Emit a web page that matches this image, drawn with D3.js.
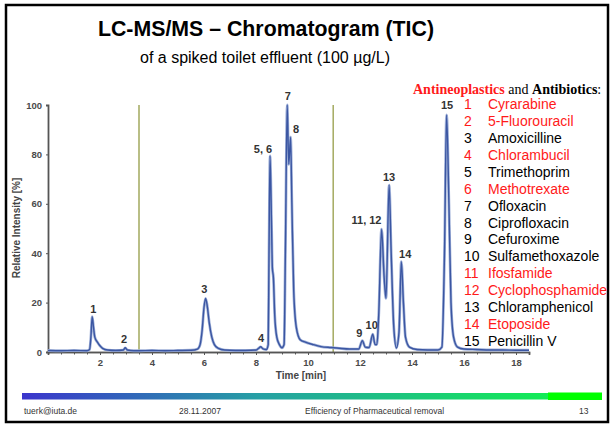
<!DOCTYPE html>
<html>
<head>
<meta charset="utf-8">
<script src="https://cdn.jsdelivr.net/npm/d3@7"></script>
<style>
  html, body { margin: 0; padding: 0; background: #fff; }
  svg { display: block; font-family: Arial, "Liberation Sans", sans-serif; }
</style>
</head>
<body>
<svg id="slide" width="612" height="425"></svg>
<script>
// retention time [min] and relative intensity [%] of the TIC trace
const traceTime = [0.0, 0.5, 1.0, 1.5, 1.6, 1.65, 1.7, 1.75, 1.8, 1.9, 2.0, 2.1, 2.3, 2.6, 2.9, 2.97, 3.05, 3.3, 3.5,
  4.0, 4.5, 5.0, 5.5, 5.75, 5.85, 5.93, 6.0, 6.06, 6.12, 6.2, 6.3, 6.4, 6.55, 6.8, 7.2, 7.6, 8.0, 8.1, 8.18, 8.27,
  8.4, 8.47, 8.5, 8.54, 8.6, 8.63, 8.67, 8.72, 8.8, 8.9, 9.0, 9.08, 9.13, 9.2, 9.26, 9.33, 9.38, 9.45, 9.55, 9.7,
  9.9, 10.2, 10.5, 10.9, 11.2, 11.6, 11.95, 12.09, 12.2, 12.35, 12.49, 12.58, 12.65, 12.72, 12.83, 12.93, 13.0,
  13.12, 13.2, 13.3, 13.4, 13.5, 13.59, 13.67, 13.75, 13.9, 14.2, 14.6, 15.0, 15.15, 15.25, 15.33, 15.42, 15.5,
  15.6, 15.75, 16.0, 16.5, 17.0, 17.5, 18.0, 18.5];
const traceIntensity = [0.6, 0.5, 0.6, 0.5, 1.0, 6, 14.3, 10, 6, 4, 2.5, 1.5, 0.8, 0.6, 0.8, 1.7, 0.8, 0.5, 0.5,
  0.6, 0.5, 0.6, 0.7, 1.2, 3, 9, 18, 21.7, 19, 12, 6, 3, 1.5, 0.8, 0.6, 0.6, 0.8, 1.5, 2.1, 1.3,
  1.0, 3, 40, 79.4, 50, 34, 30, 15, 6, 3, 1.7, 3, 40, 100, 76, 87, 60, 25, 10, 5,
  4, 3, 2.2, 1.8, 1.5, 1.2, 1.2, 4.6, 2, 1.8, 7.2, 3, 3, 15, 49.7, 30, 21.7,
  67.6, 40, 10, 1.6, 8, 36.6, 20, 6, 2, 1.0, 0.8, 0.8, 2, 40, 96, 60, 20,
  6, 2, 1.2, 1.0, 0.8, 0.8, 0.7, 0.7];

// peak labels: text, time, intensity at label baseline
const peakLabels = ["1", "2", "3", "4", "5, 6", "7", "8", "9", "10", "11, 12", "13", "14", "15"];
const peakLabelTime = [1.74, 2.93, 6.01, 8.19, 8.27, 9.22, 9.54, 11.97, 12.45, 12.25, 13.12, 13.74, 15.35];
const peakLabelValue = [15.7, 3.8, 23.7, 4, 80.7, 102, 88.8, 6, 9.3, 52, 69.4, 38, 98.4];

// olive separators
const dividerTimes = [3.5, 10.97];

const xTicks = [2, 4, 6, 8, 10, 12, 14, 16, 18];
const yTicks = [0, 20, 40, 60, 80, 100];

// legend
const compoundNumbers = d3.range(1, 16);
const compoundNames = ["Cyrarabine", "5-Fluorouracil", "Amoxicilline", "Chlorambucil", "Trimethoprim",
  "Methotrexate", "Ofloxacin", "Ciprofloxacin", "Cefuroxime", "Sulfamethoxazole", "Ifosfamide",
  "Cyclophosphamide", "Chloramphenicol", "Etoposide", "Penicillin V"];
const compoundClass = ["neo", "neo", "abx", "neo", "abx", "neo", "abx", "abx", "abx", "abx", "neo", "neo", "abx", "neo", "abx"];

const footerTexts = ["tuerk@iuta.de", "28.11.2007", "Efficiency of Pharmaceutical removal", "13"];

const svg = d3.select("#slide");
const red = "#ff1a1a";
const axisCol = "#555";

// slide frame
svg.append("rect")
  .attr("x", 6).attr("y", 5).attr("width", 602).attr("height", 417)
  .attr("fill", "none").attr("stroke", "#000").attr("stroke-width", 2.5);

// title
svg.append("text").attr("x", 266).attr("y", 36).attr("text-anchor", "middle")
  .attr("font-size", 21.3).attr("font-weight", "bold").text("LC-MS/MS – Chromatogram (TIC)");
svg.append("text").attr("x", 265).attr("y", 63).attr("text-anchor", "middle")
  .attr("font-size", 16).text("of a spiked toilet effluent (100 µg/L)");

// scales
const x = d3.scaleLinear().domain([0, 18.5]).range([48, 529]);
const y = d3.scaleLinear().domain([0, 100]).range([352, 105]);

const plot = svg.append("g");

// dividers
plot.selectAll("line.div")
  .data(dividerTimes)
  .join("line")
  .attr("class", "div")
  .attr("x1", d => x(d)).attr("x2", d => x(d))
  .attr("y1", y(100)).attr("y2", y(0))
  .attr("stroke", "#a8ae68").attr("stroke-width", 1.6);

// axes
const xAxis = plot.append("g").attr("transform", `translate(0,${y(0)})`)
  .call(d3.axisBottom(x).tickValues(d3.range(0.5, 18.6, 0.5)).tickSize(2.5).tickFormat(""));
xAxis.append("g").call(d3.axisBottom(x).tickValues(xTicks).tickSize(3).tickPadding(4).tickFormat(d3.format("d")));
xAxis.selectAll(".domain").attr("stroke", axisCol).attr("stroke-width", 1.5);
xAxis.selectAll(".tick line").attr("stroke", axisCol);
xAxis.selectAll("text").attr("font-size", 9.5).attr("font-weight", "bold").attr("fill", "#4a4a4a")
  .attr("font-family", "Arial, sans-serif");

const yAxis = plot.append("g").attr("transform", `translate(${x(0)},0)`)
  .call(d3.axisLeft(y).tickValues(yTicks).tickSize(2).tickPadding(4));
yAxis.select(".domain").attr("stroke", axisCol).attr("stroke-width", 1.8);
yAxis.selectAll(".tick line").attr("stroke", axisCol);
yAxis.selectAll("text").attr("font-size", 9.5).attr("font-weight", "bold").attr("fill", "#4a4a4a")
  .attr("font-family", "Arial, sans-serif");

// axis titles
svg.append("text").attr("x", 301).attr("y", 379).attr("text-anchor", "middle")
  .attr("font-size", 10).attr("font-weight", "bold").attr("fill", "#444").text("Time [min]");
svg.append("text").attr("transform", "translate(20,228) rotate(-90)").attr("text-anchor", "middle")
  .attr("font-size", 10).attr("font-weight", "bold").attr("fill", "#444").text("Relative Intensity [%]");

// trace
const points = traceTime.map((t, i) => [t, traceIntensity[i]]);
const line = d3.line().x(d => x(d[0])).y(d => y(d[1])).curve(d3.curveMonotoneX);
plot.append("path").datum(points)
  .attr("d", line).attr("fill", "none")
  .attr("stroke", "#9fb0d8").attr("stroke-width", 2.8).attr("stroke-linejoin", "round");
plot.append("path").datum(points)
  .attr("d", line).attr("fill", "none")
  .attr("stroke", "#3b56a2").attr("stroke-width", 1.4).attr("stroke-linejoin", "round");

// peak labels
plot.selectAll("text.peak")
  .data(peakLabels)
  .join("text")
  .attr("class", "peak")
  .attr("x", (d, i) => x(peakLabelTime[i]))
  .attr("y", (d, i) => y(peakLabelValue[i]))
  .attr("text-anchor", "middle")
  .attr("font-size", 11).attr("font-weight", "bold").attr("fill", "#333")
  .text(d => d);

// legend
const legTitle = svg.append("text").attr("x", 413).attr("y", 94)
  .attr("font-family", "'Liberation Serif', 'Times New Roman', serif").attr("font-size", 14);
legTitle.append("tspan").attr("fill", red).attr("font-weight", "bold").text("Antineoplastics");
legTitle.append("tspan").attr("fill", "#000").text(" and ");
legTitle.append("tspan").attr("fill", "#000").attr("font-weight", "bold").text("Antibiotics");
legTitle.append("tspan").attr("fill", "#000").text(":");

const legRow = svg.selectAll("g.leg")
  .data(compoundNames)
  .join("g")
  .attr("class", "leg")
  .attr("transform", (d, i) => `translate(0,${109 + i * 16.93})`)
  .attr("fill", (d, i) => compoundClass[i] === "neo" ? red : "#000")
  .attr("font-size", 14);
legRow.append("text").attr("x", 464).text((d, i) => compoundNumbers[i]);
legRow.append("text").attr("x", 488).text(d => d);

// footer gradient bar
const grad = svg.append("defs").append("linearGradient").attr("id", "bar")
  .attr("x1", "0%").attr("x2", "100%");
grad.append("stop").attr("offset", "0%").attr("stop-color", "#3b35cc");
grad.append("stop").attr("offset", "45%").attr("stop-color", "#26a0a4");
grad.append("stop").attr("offset", "100%").attr("stop-color", "#12ec55");
svg.append("rect").attr("x", 22).attr("y", 393).attr("width", 526).attr("height", 6.5).attr("fill", "url(#bar)");
svg.append("rect").attr("x", 548).attr("y", 392.5).attr("width", 54).attr("height", 7.5).attr("fill", "#00ff00");

const footerX = [24, 179, 305, 579];
svg.selectAll("text.foot")
  .data(footerTexts)
  .join("text")
  .attr("class", "foot")
  .attr("x", (d, i) => footerX[i]).attr("y", 413.5)
  .attr("font-size", 8.5).attr("fill", "#333")
  .text(d => d);
</script>
</body>
</html>
